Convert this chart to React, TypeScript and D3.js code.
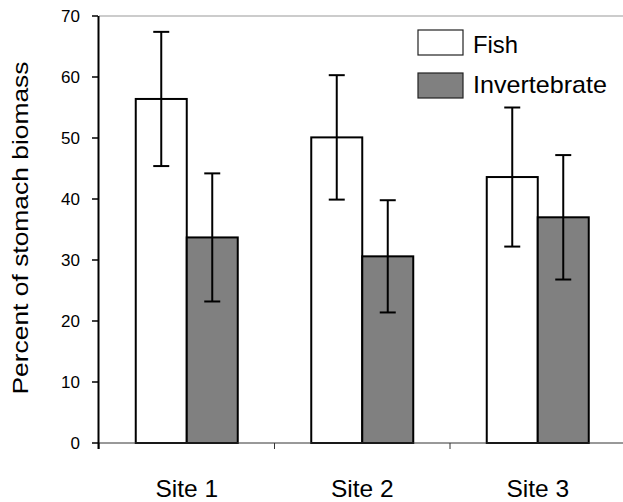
import React from "react";
import * as d3 from "d3";

const sites = ["Site 1", "Site 2", "Site 3"];
const series = ["Fish", "Invertebrate"];
const fishMean = [56.4, 50.1, 43.6];
const fishErr = [11.0, 10.2, 11.4];
const invMean = [33.7, 30.6, 37.0];
const invErr = [10.5, 9.2, 10.2];
const yTicks = [0, 10, 20, 30, 40, 50, 60, 70];
const colors = ["#ffffff", "#808080"];

const W = 623;
const H = 502;

export default function App() {
  const y = d3.scaleLinear().domain([0, 70]).range([443, 16]);
  const x = d3.scaleBand().domain(sites).range([99, 625.5]).paddingInner(0).paddingOuter(0);
  const barW = 51;
  const font = "'Liberation Sans', Arial, sans-serif";
  const data = [fishMean, invMean];
  const errs = [fishErr, invErr];
  const legendW = [45, 134];

  return (
    <svg width={W} height={H} style={{ position: "absolute", left: 0, top: 0, background: "#fff" }} fontFamily={font}>
      <rect x={0} y={0} width={W} height={H} fill="#fff" />
      {/* top border */}
      <line x1={99} x2={W} y1={y(70)} y2={y(70)} stroke="#999" strokeWidth={1} />
      {/* bars */}
      {sites.map((s, i) => {
        const c = (x(s) as number) + x.bandwidth() / 2;
        return (
          <g key={s}>
            {series.map((ser, j) => {
              const bx = j === 0 ? c - barW : c;
              const v = data[j][i];
              const e = errs[j][i];
              const cx = bx + barW / 2;
              return (
                <g key={ser}>
                  <rect x={bx} y={y(v)} width={barW} height={y(0) - y(v)} fill={colors[j]} stroke="#000" strokeWidth={2} />
                  <line x1={cx} x2={cx} y1={y(v + e)} y2={y(v - e)} stroke="#000" strokeWidth={2} />
                  <line x1={cx - 8} x2={cx + 8} y1={y(v + e)} y2={y(v + e)} stroke="#000" strokeWidth={2} />
                  <line x1={cx - 8} x2={cx + 8} y1={y(v - e)} y2={y(v - e)} stroke="#000" strokeWidth={2} />
                </g>
              );
            })}
          </g>
        );
      })}
      {/* x axis */}
      <line x1={99} x2={W} y1={y(0)} y2={y(0)} stroke="#333" strokeWidth={1} />
      {sites.map((s) => (
        <line key={"t" + s} x1={x(s) as number} x2={x(s) as number} y1={y(0)} y2={y(0) + 6} stroke="#333" strokeWidth={1} />
      ))}
      {sites.map((s) => (
        <text key={"l" + s} x={(x(s) as number) + x.bandwidth() / 2} y={497} textAnchor="middle" fontSize={24.5} fill="#000">
          {s}
        </text>
      ))}
      {/* y axis */}
      <line x1={98.5} x2={98.5} y1={y(70)} y2={y(0) + 6} stroke="#000" strokeWidth={2} />
      {yTicks.map((t) => (
        <g key={t}>
          <line x1={92} x2={98} y1={y(t)} y2={y(t)} stroke="#000" strokeWidth={1.5} />
          <text x={80} y={y(t) + 6} textAnchor="end" fontSize={17} fill="#000">
            {t}
          </text>
        </g>
      ))}
      <text transform={`translate(28,228) rotate(-90)`} textAnchor="middle" fontSize={22} fill="#000" textLength={333} lengthAdjust="spacingAndGlyphs">
        Percent of stomach biomass
      </text>
      {/* legend */}
      {series.map((ser, j) => (
        <g key={"lg" + ser}>
          <rect x={418} y={30 + j * 43} width={45} height={25} fill={colors[j]} stroke="#222" strokeWidth={1.2} />
          <text x={473} y={52.5 + j * 40} fontSize={24} fill="#000" textLength={legendW[j]} lengthAdjust="spacingAndGlyphs">
            {ser}
          </text>
        </g>
      ))}
    </svg>
  );
}
